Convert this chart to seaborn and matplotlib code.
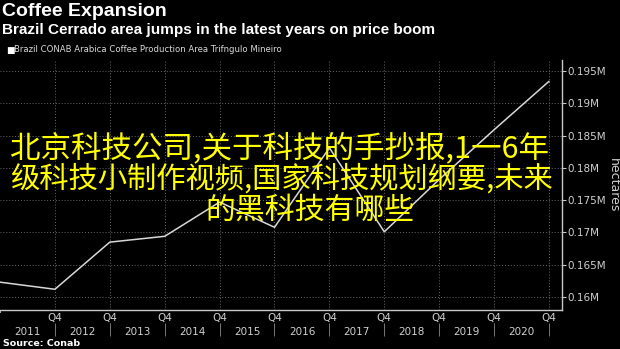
import matplotlib
matplotlib.use("Agg")
import matplotlib.pyplot as plt
import matplotlib.transforms as mtransforms
import seaborn as sns
import pandas as pd

# ---- data ----
years = [2010, 2011, 2012, 2013, 2014, 2015, 2016, 2017, 2018, 2019, 2020]
area_m = [0.1623, 0.1612, 0.1685, 0.1694, 0.1747, 0.1708, 0.1831, 0.1701, 0.1782, 0.1859, 0.1934]
ytick_vals = [0.16, 0.165, 0.17, 0.175, 0.18, 0.185, 0.19, 0.195]
q4_ticks = [2011, 2012, 2013, 2014, 2015, 2016, 2017, 2018, 2019, 2020]
year_labels = ["2011", "2012", "2013", "2014", "2015", "2016", "2017", "2018", "2019", "2020"]
overlay_lines = ["北京科技公司,关于科技的手抄报,1一6年",
                 "级科技小制作视频,国家科技规划纲要,未来",
                 "的黑科技有哪些"]

df = pd.DataFrame({"year": years, "area": area_m})

sns.set_style("dark", {"axes.facecolor": "black", "figure.facecolor": "black"})
plt.rcParams["font.family"] = ["DejaVu Sans"]

W, H = 620, 349
fig = plt.figure(figsize=(6.2, 3.49), dpi=100, facecolor="black")
ax = fig.add_axes([0 / W, 1 - 310 / H, 562 / W, (310 - 60) / H])
ax.set_facecolor("black")

sns.lineplot(data=df, x="year", y="area", ax=ax, color="#d8d8d8", linewidth=1.1)

ax.set_xlim(2010, 2010 + 562 / 54.9)
ax.set_ylim(0.15799, 0.1967)

# grid
ax.grid(True, color="#6a6a6a", linestyle=(0, (1, 2)), linewidth=0.7)
ax.set_axisbelow(True)

# spines
for s in ["top", "left"]:
    ax.spines[s].set_visible(False)
for s in ["right", "bottom"]:
    ax.spines[s].set_visible(True)
    ax.spines[s].set_color("#c8c8c8")
    ax.spines[s].set_linewidth(1.0)

# y axis on right
ax.yaxis.tick_right()
ax.yaxis.set_label_position("right")
ax.set_yticks(ytick_vals)
ax.set_yticklabels([f"{v:g}M" for v in ytick_vals])
ax.tick_params(axis="y", colors="#c8c8c8", labelcolor="#d0d0d0", labelsize=7.5,
               length=3, width=0.8, pad=1, direction="out")
ax.set_ylabel("hectares", color="#d0d0d0", fontsize=9, rotation=270, labelpad=10)

# x axis: Q4 ticks and year labels
ax.set_xticks(q4_ticks)
ax.set_xticklabels(["Q4"] * len(q4_ticks))
ax.set_xticks([y - 0.5 for y in q4_ticks], minor=True)
ax.set_xticklabels(year_labels, minor=True)
ax.tick_params(axis="x", which="major", colors="#c8c8c8", labelcolor="#d0d0d0",
               labelsize=7.5, length=0, pad=2)
ax.tick_params(axis="x", which="minor", colors="#c8c8c8", labelcolor="#d0d0d0",
               labelsize=7.5, length=0, pad=12.5)
ax.set_xlabel("")

# year separators under the axis
trans = mtransforms.blended_transform_factory(ax.transData, ax.transAxes)
ax.vlines(q4_ticks, -0.05, -0.105, transform=trans, colors="#777777",
          linewidth=0.7, clip_on=False)
ax.vlines([2010], -0.0, -0.012, transform=trans, colors="#c8c8c8",
          linewidth=1.2, clip_on=False)

# last value label
ax.annotate(f"{area_m[-1]:.3f}M", xy=(1.0, area_m[-1]), xycoords=trans,
            xytext=(7, 0), textcoords="offset points", va="center", ha="left",
            fontsize=7.5, color="black",
            bbox=dict(boxstyle="square,pad=0.12", fc="white", ec="white"))

# titles
sans = ["Liberation Sans", "DejaVu Sans"]
fig.text(2 / W, 1 - 3 / H, "Coffee Expansion", color="white", fontsize=14,
         fontweight="bold", va="top", ha="left", family=sans)
fig.text(2 / W, 1 - 23 / H, "Brazil Cerrado area jumps in the latest years on price boom",
         color="white", fontsize=11, fontweight="bold", va="top", ha="left", family=sans)
fig.text(6 / W, 1 - 50 / H, "■", color="white", fontsize=6.5, va="center", ha="left")
fig.text(14 / W, 1 - 50 / H, "Brazil CONAB Arabica Coffee Production Area Trifngulo Mineiro",
         color="#d8d8d8", fontsize=6.1, va="center", ha="left")
fig.text(3 / W, 1 - 344 / H, "Source: Conab", color="white", fontsize=6.8,
         fontweight="bold", va="center", ha="left")

# overlay text
cjk = ["Noto Sans CJK SC", "DejaVu Sans"]
layout = [(10, 148, 22.0), (10, 179, 21.1), (205, 210, 21.5)]
for txt, (lx, cy, fs) in zip(overlay_lines, layout):
    fig.text(lx / W, 1 - cy / H, txt, color="#ffff00", fontsize=fs,
             family=cjk, ha="left", va="center")

fig.savefig("out.png", dpi=100, facecolor="black")
